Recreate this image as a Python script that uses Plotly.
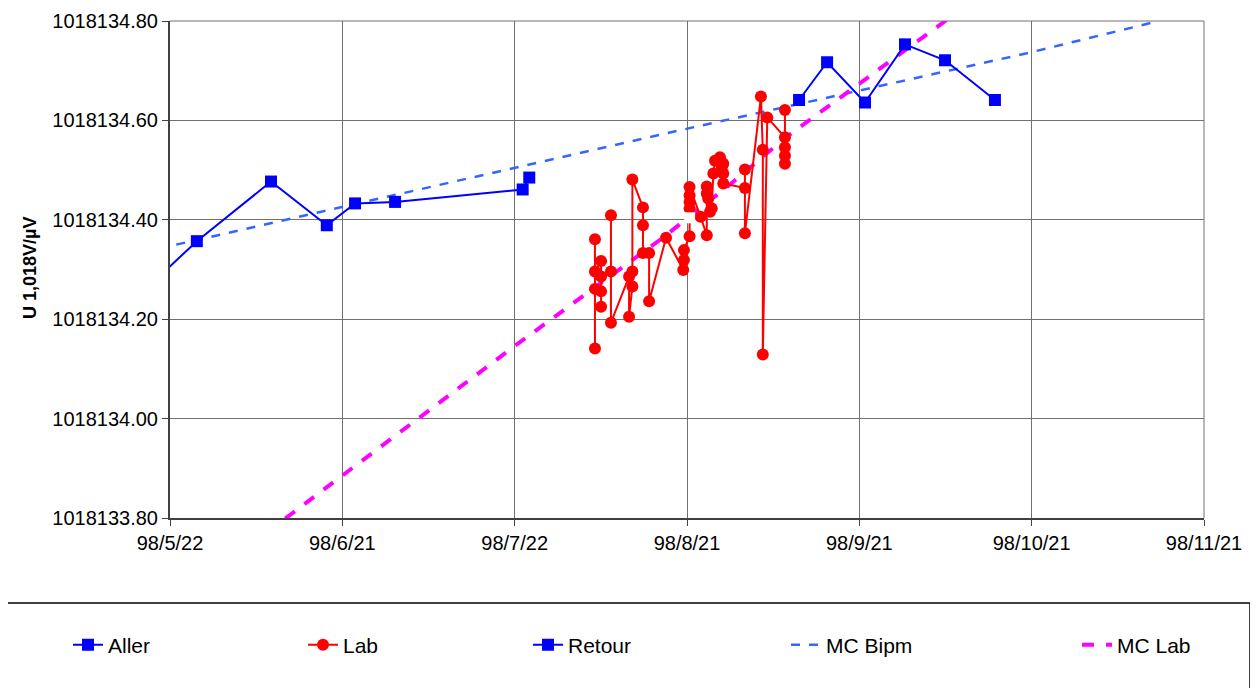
import plotly.graph_objects as go
import pandas as pd

# ---------------- data ----------------
x_start = "1998-05-22"
x_end = "1998-11-21"
tick_labels = ["98/5/22", "98/6/21", "98/7/22", "98/8/21", "98/9/21", "98/10/21", "98/11/21"]
y_ticks = [1018133.80, 1018134.00, 1018134.20, 1018134.40, 1018134.60, 1018134.80]

aller_dates = ["1998-05-12 00:00", "1998-05-26 18:00", "1998-06-08 21:00", "1998-06-18 18:00",
               "1998-06-23 18:00", "1998-06-30 20:00", "1998-07-23 10:00", "1998-07-24 14:00"]
aller_vals = [1018134.200, 1018134.357, 1018134.477, 1018134.389,
              1018134.433, 1018134.436, 1018134.461, 1018134.485]

retour_dates = ["1998-09-10 08:00", "1998-09-15 07:00", "1998-09-22 00:00",
                "1998-09-29 02:00", "1998-10-06 04:00", "1998-10-15 00:00"]
retour_vals = [1018134.641, 1018134.717, 1018134.636,
               1018134.753, 1018134.721, 1018134.641]

lab_dates = [
    "1998-08-05 05:00", "1998-08-05 05:00", "1998-08-05 05:00", "1998-08-05 05:00",
    "1998-08-06 07:00", "1998-08-06 07:00", "1998-08-06 07:00", "1998-08-06 07:00",
    "1998-08-08 01:00", "1998-08-08 01:00", "1998-08-08 01:00",
    "1998-08-11 06:00", "1998-08-11 06:00",
    "1998-08-11 20:00", "1998-08-11 20:00", "1998-08-11 20:00",
    "1998-08-13 17:00", "1998-08-13 17:00", "1998-08-13 17:00",
    "1998-08-14 19:00", "1998-08-14 19:00",
    "1998-08-17 19:00",
    "1998-08-20 20:00",
    "1998-08-20 23:00", "1998-08-20 23:00",
    "1998-08-21 23:00", "1998-08-21 23:00", "1998-08-21 23:00", "1998-08-21 23:00", "1998-08-21 23:00",
    "1998-08-23 22:00",
    "1998-08-25 00:00", "1998-08-25 00:00", "1998-08-25 00:00",
    "1998-08-25 06:00",
    "1998-08-25 14:00",
    "1998-08-25 21:00",
    "1998-08-26 04:00",
    "1998-08-26 11:00",
    "1998-08-27 08:00",
    "1998-08-27 16:00", "1998-08-27 16:00",
    "1998-08-27 22:00", "1998-08-27 22:00", "1998-08-27 22:00",
    "1998-08-31 18:00", "1998-08-31 18:00", "1998-08-31 18:00",
    "1998-09-03 14:00",
    "1998-09-03 22:00", "1998-09-03 22:00",
    "1998-09-04 17:00",
    "1998-09-07 20:00", "1998-09-07 20:00", "1998-09-07 20:00", "1998-09-07 20:00", "1998-09-07 20:00",
]
lab_vals = [
    1018134.361, 1018134.141, 1018134.261, 1018134.296,
    1018134.317, 1018134.225, 1018134.256, 1018134.286,
    1018134.296, 1018134.409, 1018134.193,
    1018134.286, 1018134.205,
    1018134.266, 1018134.296, 1018134.481,
    1018134.425, 1018134.389, 1018134.333,
    1018134.333, 1018134.236,
    1018134.364,
    1018134.299,
    1018134.319, 1018134.339,
    1018134.367, 1018134.423, 1018134.436, 1018134.449, 1018134.466,
    1018134.406,
    1018134.369, 1018134.453, 1018134.467,
    1018134.443,
    1018134.416,
    1018134.423,
    1018134.493,
    1018134.519,
    1018134.526,
    1018134.516, 1018134.506,
    1018134.513, 1018134.493, 1018134.473,
    1018134.464, 1018134.501, 1018134.373,
    1018134.648,
    1018134.541, 1018134.129,
    1018134.606,
    1018134.566, 1018134.546, 1018134.529, 1018134.513, 1018134.621,
]

mc_bipm_dates = ["1998-05-20", "1998-06-21", "1998-07-22", "1998-08-21",
                 "1998-09-21", "1998-10-21", "1998-11-13"]
mc_bipm_vals = [1018134.342, 1018134.425, 1018134.504, 1018134.582,
                1018134.660, 1018134.736, 1018134.800]

mc_lab_dates = ["1998-06-08", "1998-06-22", "1998-07-05", "1998-07-22",
                "1998-08-17", "1998-08-29", "1998-09-08", "1998-10-08"]
mc_lab_vals = [1018133.770, 1018133.890, 1018134.000, 1018134.146,
               1018134.362, 1018134.470, 1018134.566, 1018134.815]

extra_dates = ["1998-08-21 23:00"]
extra_vals = [1018134.404]

# ---------------- figure ----------------
FONT = "Arial, Liberation Sans, sans-serif"
OFF = 8  # page body margin
W, H = 1250, 680
L, R, T, B = 162, 54, 13, 170
pw = W - L - R
ph = H - T - B

t0 = pd.Timestamp(x_start)
t1 = pd.Timestamp(x_end)
n = len(tick_labels) - 1
tick_vals = [t0 + (t1 - t0) * i / n for i in range(n + 1)]
eps = 1e-7
y_range = [y_ticks[0] - eps, y_ticks[-1] + eps]

fig = go.Figure()

fig.add_trace(go.Scatter(x=mc_bipm_dates, y=mc_bipm_vals, mode="lines", name="MC Bipm",
                         line=dict(color="#3366FF", width=2.5, dash="dash"),
                         legend="legend4"))
fig.add_trace(go.Scatter(x=mc_lab_dates, y=mc_lab_vals, mode="lines", name="MC Lab",
                         line=dict(color="#FF00FF", width=4, dash="dash"),
                         legend="legend5"))
fig.add_trace(go.Scatter(x=aller_dates, y=aller_vals, mode="lines+markers", name="Aller",
                         line=dict(color="#0000FF", width=2),
                         marker=dict(symbol="square", size=12, color="#0000FF"),
                         legend="legend"))
fig.add_trace(go.Scatter(x=lab_dates, y=lab_vals, mode="lines+markers", name="Lab",
                         line=dict(color="#FF0000", width=2),
                         marker=dict(symbol="circle", size=12, color="#FF0000"),
                         legend="legend2"))
fig.add_trace(go.Scatter(x=retour_dates, y=retour_vals, mode="lines+markers", name="Retour",
                         line=dict(color="#0000FF", width=2),
                         marker=dict(symbol="square", size=12, color="#0000FF"),
                         legend="legend3"))
fig.add_trace(go.Scatter(x=extra_dates, y=extra_vals, mode="markers", showlegend=False,
                         marker=dict(symbol="square", size=11, color="#FFFFFF"),
                         hoverinfo="skip"))


def px_x(p):
    # screenshot px -> paper x
    return (p - OFF - L) / pw


def px_y(p):
    # screenshot px -> paper y
    return (H - B - (p - OFF)) / ph


leg_common = dict(orientation="h", yanchor="middle", xanchor="left",
                  bgcolor="rgba(0,0,0,0)", borderwidth=0,
                  font=dict(family=FONT, size=21, color="#000000"))
leg_y = px_y(645)
fig.update_layout(
    legend=dict(x=px_x(68), y=leg_y, **leg_common),
    legend2=dict(x=px_x(303), y=leg_y, **leg_common),
    legend3=dict(x=px_x(528), y=leg_y, **leg_common),
    legend4=dict(x=px_x(786), y=leg_y, **leg_common),
    legend5=dict(x=px_x(1077), y=leg_y, **leg_common),
)

fig.update_layout(
    width=W, height=H,
    margin=dict(l=L, r=R, t=T, b=B, pad=0, autoexpand=False),
    paper_bgcolor="#FFFFFF", plot_bgcolor="#FFFFFF",
    font=dict(family=FONT, size=21, color="#000000"),
    showlegend=True,
    xaxis=dict(type="date", range=[t0, t1], tickvals=tick_vals, ticktext=tick_labels,
               showgrid=True, gridcolor="#707070", gridwidth=1,
               showline=True, linecolor="#404040", linewidth=2, mirror=False,
               ticks="outside", ticklen=6, tickcolor="#404040",
               ticklabeloverflow="allow",
               tickfont=dict(family=FONT, size=20), zeroline=False),
    yaxis=dict(range=y_range, tickvals=y_ticks,
               tickformat=".2f", showgrid=True, gridcolor="#707070", gridwidth=1,
               showline=True, linecolor="#404040", linewidth=2, mirror=False,
               ticks="outside", ticklen=6, tickcolor="#404040",
               ticklabeloverflow="allow",
               tickfont=dict(family=FONT, size=20), zeroline=False),
    shapes=[
        dict(type="rect", xref="paper", yref="paper",
             x0=px_x(-2), x1=px_x(1250), y0=px_y(603), y1=px_y(700),
             line=dict(color="#000000", width=1.5), fillcolor="rgba(0,0,0,0)", layer="above"),
        dict(type="line", xref="paper", yref="paper",
             x0=1, x1=1, y0=0, y1=1, line=dict(color="#707070", width=1)),
        dict(type="line", xref="paper", yref="paper",
             x0=0, x1=1, y0=1, y1=1, line=dict(color="#707070", width=1)),
    ],
    annotations=[
        dict(text="<b>U 1,018V/µV</b>", xref="paper", yref="paper",
             x=px_x(30), y=px_y(268), textangle=-90, showarrow=False,
             xanchor="center", yanchor="middle",
             font=dict(family=FONT, size=18, color="#000000")),
    ],
)

fig.write_html("out.html")
